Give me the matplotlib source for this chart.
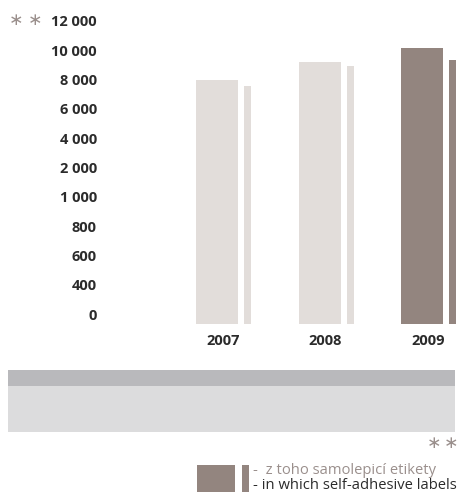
import matplotlib
matplotlib.use('Agg')
import matplotlib.pyplot as plt
from matplotlib.patches import Rectangle

# ---- data ----
years = ['2007', '2008', '2009']
total = [8000, 9200, 10150]          # wide bars
self_adhesive = [7550, 8930, 9350]   # narrow bars ("z toho samolepicí etikety")
tick_values = [0, 400, 600, 800, 1000, 2000, 4000, 6000, 8000, 10000, 12000]
tick_labels = ['0', '400', '600', '800', '1 000', '2 000', '4 000',
               '6 000', '8 000', '10 000', '12 000']

light = '#e2ddda'
dark = '#93857f'
star_col = '#9a8f8c'
W, H = 469, 495


def to_pos(v):
    # the axis is evenly spaced per tick, so map values piecewise onto tick index
    for i in range(len(tick_values) - 1):
        a, b = tick_values[i], tick_values[i + 1]
        if v <= b:
            return i + (v - a) / (b - a)
    return len(tick_values) - 1


def fx(px):
    return px / W


def fy(py):
    return 1 - py / H


plt.rcParams['font.family'] = ['Open Sans', 'DejaVu Sans']

fig = plt.figure(figsize=(W / 100, H / 100), dpi=100)

# axes spans pixel x 110..469, pixel y 324 (bar base) .. 10
ax = fig.add_axes([fx(110), fy(324), fx(469) - fx(110), fy(10) - fy(324)])
unit_x = 102.5
base = -10 / 29.3
ax.set_xlim((110 - 217) / unit_x, (469 - 217) / unit_x)
ax.set_ylim(base, (314 - 10) / 29.3)

colors = [light, light, dark]
for i in range(len(years)):
    ax.bar(i, to_pos(total[i]) - base, bottom=base, width=42 / unit_x,
           color=colors[i], linewidth=0)
    ax.bar(i + 30.5 / unit_x, to_pos(self_adhesive[i]) - base, bottom=base,
           width=7 / unit_x, color=colors[i], linewidth=0)

ax.set_yticks(range(len(tick_values)))
ax.set_yticklabels(tick_labels, fontsize=10.5, fontweight='bold', color='#2b2b2b')
# year labels sit under the middle of each bar pair
ax.set_xticks([i + 6 / unit_x for i in range(len(years))])
ax.set_xticklabels(years, fontsize=10.5, fontweight='bold', color='#2b2b2b')
ax.tick_params(axis='y', length=0, pad=9.5)
ax.tick_params(axis='x', length=0, pad=7)
for s in ax.spines.values():
    s.set_visible(False)

# grey bands below the chart
fig.add_artist(Rectangle((fx(8), fy(386)), fx(455) - fx(8), fy(370) - fy(386),
                         transform=fig.transFigure, color='#b9b9bc', lw=0))
fig.add_artist(Rectangle((fx(8), fy(432)), fx(455) - fx(8), fy(386) - fy(432),
                         transform=fig.transFigure, color='#dcdcdd', lw=0))

# asterisks (footnote marks)
for px, py in [(16, 20), (35, 20), (434.5, 443.5), (451, 443.5)]:
    fig.text(fx(px), fy(py), '\u2217', fontsize=12.5, color=star_col,
             ha='center', va='center', family='DejaVu Sans')

# legend
fig.add_artist(Rectangle((fx(197), fy(492)), fx(235) - fx(197), fy(465) - fy(492),
                         transform=fig.transFigure, color=dark, lw=0))
fig.add_artist(Rectangle((fx(242), fy(492)), fx(249) - fx(242), fy(465) - fy(492),
                         transform=fig.transFigure, color=dark, lw=0))
fig.text(fx(253), fy(474), '-  z toho samolepicí etikety', fontsize=10.6,
         color=star_col, ha='left', va='baseline')
fig.text(fx(253), fy(489), '- in which self-adhesive labels', fontsize=10.6,
         color='#2b2b2b', ha='left', va='baseline')

fig.savefig('out.png', dpi=100)
